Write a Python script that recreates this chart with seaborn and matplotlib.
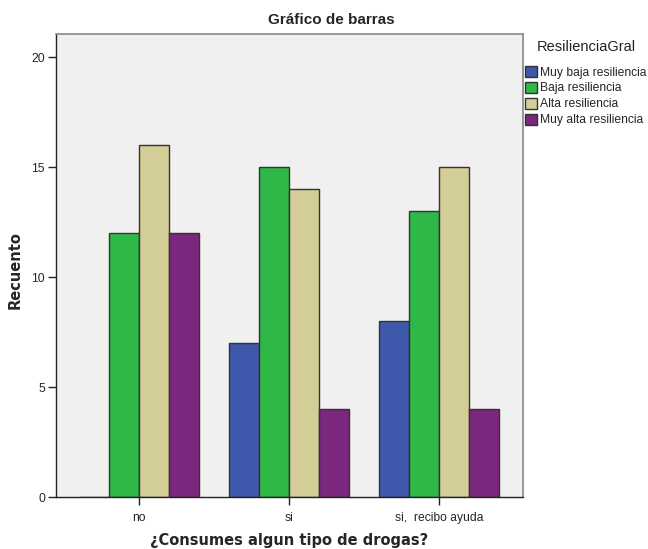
import matplotlib

matplotlib.use("Agg")
import matplotlib.pyplot as plt
import pandas as pd
import seaborn as sns

# data
categories = ["no", "si", "si,  recibo ayuda"]
levels = ["Muy baja resiliencia", "Baja resiliencia", "Alta resiliencia", "Muy alta resiliencia"]
muy_baja = [0, 7, 8]
baja = [12, 15, 13]
alta = [16, 14, 15]
muy_alta = [12, 4, 4]
colors = ["#3E58AC", "#2EB848", "#D3CE97", "#7B277D"]

rows = []
for lvl, vals in zip(levels, [muy_baja, baja, alta, muy_alta]):
    for cat, v in zip(categories, vals):
        rows.append({"cat": cat, "nivel": lvl, "n": v})
df = pd.DataFrame(rows)

sns.set_style("white")
plt.rcParams["font.family"] = ["Liberation Sans", "DejaVu Sans"]

fig = plt.figure(figsize=(6.48, 5.49), dpi=100)
ax = fig.add_axes([0.0864, 0.0947, 0.7206, 0.8433])
ax.set_facecolor("#F0F0F0")

sns.barplot(data=df, x="cat", y="n", hue="nivel", order=categories, hue_order=levels,
            palette=colors, saturation=1, edgecolor="#333333", linewidth=1,
            width=0.8, ax=ax, legend=True)

ax.set_xlim(-0.553, 2.56)
ax.set_ylim(0, 21.05)
ax.set_yticks([0, 5, 10, 15, 20])
ax.tick_params(axis="both", direction="out", length=6, width=1, color="#222222",
               labelsize=8.7, left=True, bottom=True)
ax.tick_params(axis="x", pad=5)
ax.tick_params(axis="y", pad=2)

for side in ["left", "bottom"]:
    ax.spines[side].set_color("#222222")
    ax.spines[side].set_linewidth(1)
for side in ["top", "right"]:
    ax.spines[side].set_color("#888888")
    ax.spines[side].set_linewidth(1.2)

ax.set_xlabel("¿Consumes algun tipo de drogas?", fontsize=10.5, fontweight="bold",
              family=["DejaVu Sans"], va="center")
ax.xaxis.set_label_coords(0.5, -0.093)
ax.set_ylabel("Recuento", fontsize=10.5, fontweight="bold", family=["DejaVu Sans"],
              va="center")
ax.yaxis.set_label_coords(-0.088, 0.49)
fig.text(0.511, 0.964, "Gráfico de barras", fontsize=11, fontweight="bold",
         ha="center", va="center")

handles, labels = ax.get_legend_handles_labels()
ax.legend(handles, labels, loc="upper left", bbox_to_anchor=(0.810, 0.8798),
          bbox_transform=fig.transFigure, frameon=False, fontsize=8.7,
          handlelength=1.0, handleheight=1.0, handletextpad=0.25, labelspacing=0.28,
          borderaxespad=0, borderpad=0)
fig.text(0.829, 0.914, "ResilienciaGral", fontsize=10.5, ha="left", va="center",
         color="#222222")

fig.savefig("out.png", dpi=100)
